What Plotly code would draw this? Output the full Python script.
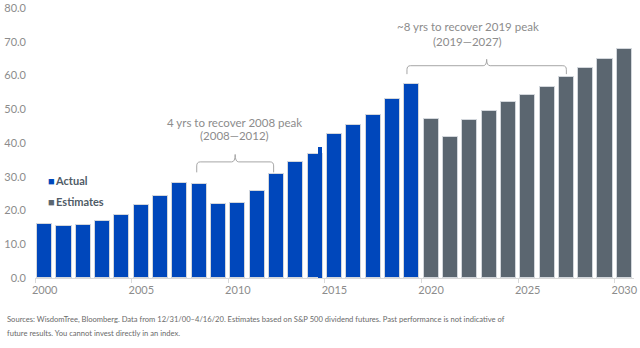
import plotly.graph_objects as go

# S&P 500 dividends per share: realised history and futures-implied estimates
actual_years = list(range(2000, 2020))
actual_values = [16.0, 15.3, 15.8, 16.9, 18.8, 21.7, 24.3, 28.2, 27.8, 21.9,
                 22.3, 25.9, 30.7, 34.4, 36.6, 42.8, 45.2, 48.2, 53.0, 57.6]

estimate_years = list(range(2020, 2031))
estimate_values = [47.1, 41.9, 46.7, 49.5, 52.1, 54.1, 56.7, 59.6, 62.3, 65.0, 67.9]

# 2014 intra-year high shown as a narrow step on the right of that bar
step_year = [2014]
step_value = [38.8]

x_tick_vals = [2000, 2005, 2010, 2015, 2020, 2025, 2030]
y_tick_vals = [0, 10, 20, 30, 40, 50, 60, 70, 80]

BLUE = "#0047BB"
SLATE = "#5B6670"
EDGE = "#D3D7DC"
LABEL = "#8C8C8C"
FONT = "Lato"

fig = go.Figure()

fig.add_trace(go.Bar(
    x=actual_years, y=actual_values, name="Actual",
    marker=dict(color=BLUE, line=dict(color=EDGE, width=1)),
    width=0.78, showlegend=False,
))
fig.add_trace(go.Bar(
    x=step_year, y=step_value, name="Actual",
    marker=dict(color=BLUE, line=dict(width=0)),
    width=0.2, offset=0.17, showlegend=False,
))
fig.add_trace(go.Bar(
    x=estimate_years, y=estimate_values, name="Estimates",
    marker=dict(color=SLATE, line=dict(color=EDGE, width=1)),
    width=0.78, showlegend=False,
))


def brace(x0, x1, y_base, y_bar, y_peak, r=0.18, rv=1.2):
    """Curly-brace path spanning x0..x1, opening downward."""
    xm = (x0 + x1) / 2
    return (
        f"M {x0},{y_base} L {x0},{y_bar - rv} Q {x0},{y_bar} {x0 + r},{y_bar} "
        f"L {xm - r},{y_bar} Q {xm},{y_bar} {xm},{y_peak} "
        f"Q {xm},{y_bar} {xm + r},{y_bar} L {x1 - r},{y_bar} "
        f"Q {x1},{y_bar} {x1},{y_bar - rv} L {x1},{y_base}"
    )


fig.add_shape(type="path", xref="x", yref="y",
              path=brace(2007.87, 2011.85, 31.3, 34.4, 36.6),
              line=dict(color="#A6A6A6", width=1))
fig.add_shape(type="path", xref="x", yref="y",
              path=brace(2018.75, 2027.0, 60.4, 62.9, 64.8),
              line=dict(color="#A6A6A6", width=1))

notes = [
    (2009.83, 46.1, "4 yrs to recover 2008 peak"),
    (2009.83, 42.1, "(2008\u20142012)"),
    (2021.9, 74.4, "~8 yrs to recover 2019 peak"),
    (2021.9, 70.2, "(2019\u20142027)"),
]
for nx, ny, txt in notes:
    fig.add_annotation(x=nx, y=ny, xref="x", yref="y", text=txt, showarrow=False,
                       font=dict(family=FONT, size=11.5, color=LABEL),
                       xanchor="center", yanchor="middle")

# Legend drawn as keyed labels inside the plot
for ly, col, txt in [(29.0, BLUE, "Actual"), (22.7, SLATE, "Estimates")]:
    fig.add_annotation(x=0, y=ly, xref="paper", yref="y", xshift=11,
                       text=f"<span style='color:{col}'>\u25A0</span>\u2009<b>{txt}</b>",
                       showarrow=False, xanchor="left", yanchor="middle",
                       font=dict(family=FONT, size=11, color="#4F5B66"))

footer = [
    "Sources: WisdomTree, Bloomberg. Data from 12/31/00\u20134/16/20. Estimates based on "
    "S&P 500 dividend futures. Past performance is not indicative of",
    "future results. You cannot invest directly in an index.",
]
for i, line in enumerate(footer):
    fig.add_annotation(x=0, y=0, xref="paper", yref="paper", xshift=-30,
                       yshift=-40.5 - 14 * i,
                       text=line, showarrow=False, xanchor="left", yanchor="middle",
                       font=dict(family=FONT, size=7.6, color="#6A6A6A"))

fig.update_layout(
    width=640, height=348,
    margin=dict(l=35, r=6, t=8, b=70),
    paper_bgcolor="white", plot_bgcolor="white",
    barmode="overlay", bargap=0,
    font=dict(family=FONT, size=11, color=LABEL),
)
fig.update_xaxes(
    range=[1999.5, 2030.5], tickvals=x_tick_vals,
    ticktext=[str(v) for v in x_tick_vals],
    showgrid=False, zeroline=False, automargin=False,
    showline=True, linecolor="#D9D9D9", linewidth=1,
    ticks="", tickfont=dict(family=FONT, size=11, color=LABEL),
    ticklabelstandoff=2,
    minor=dict(tickvals=[v - 0.5 for v in x_tick_vals], ticks="outside",
               ticklen=4, tickcolor="#D9D9D9", showgrid=False),
)
fig.update_yaxes(
    range=[0, 80], tickvals=y_tick_vals,
    ticktext=[f"{v:.1f}" for v in y_tick_vals],
    showgrid=False, zeroline=False, showline=False, ticks="", automargin=False,
    tickfont=dict(family=FONT, size=11, color=LABEL),
    ticklabelstandoff=8,
)

fig.write_html("out.html")
